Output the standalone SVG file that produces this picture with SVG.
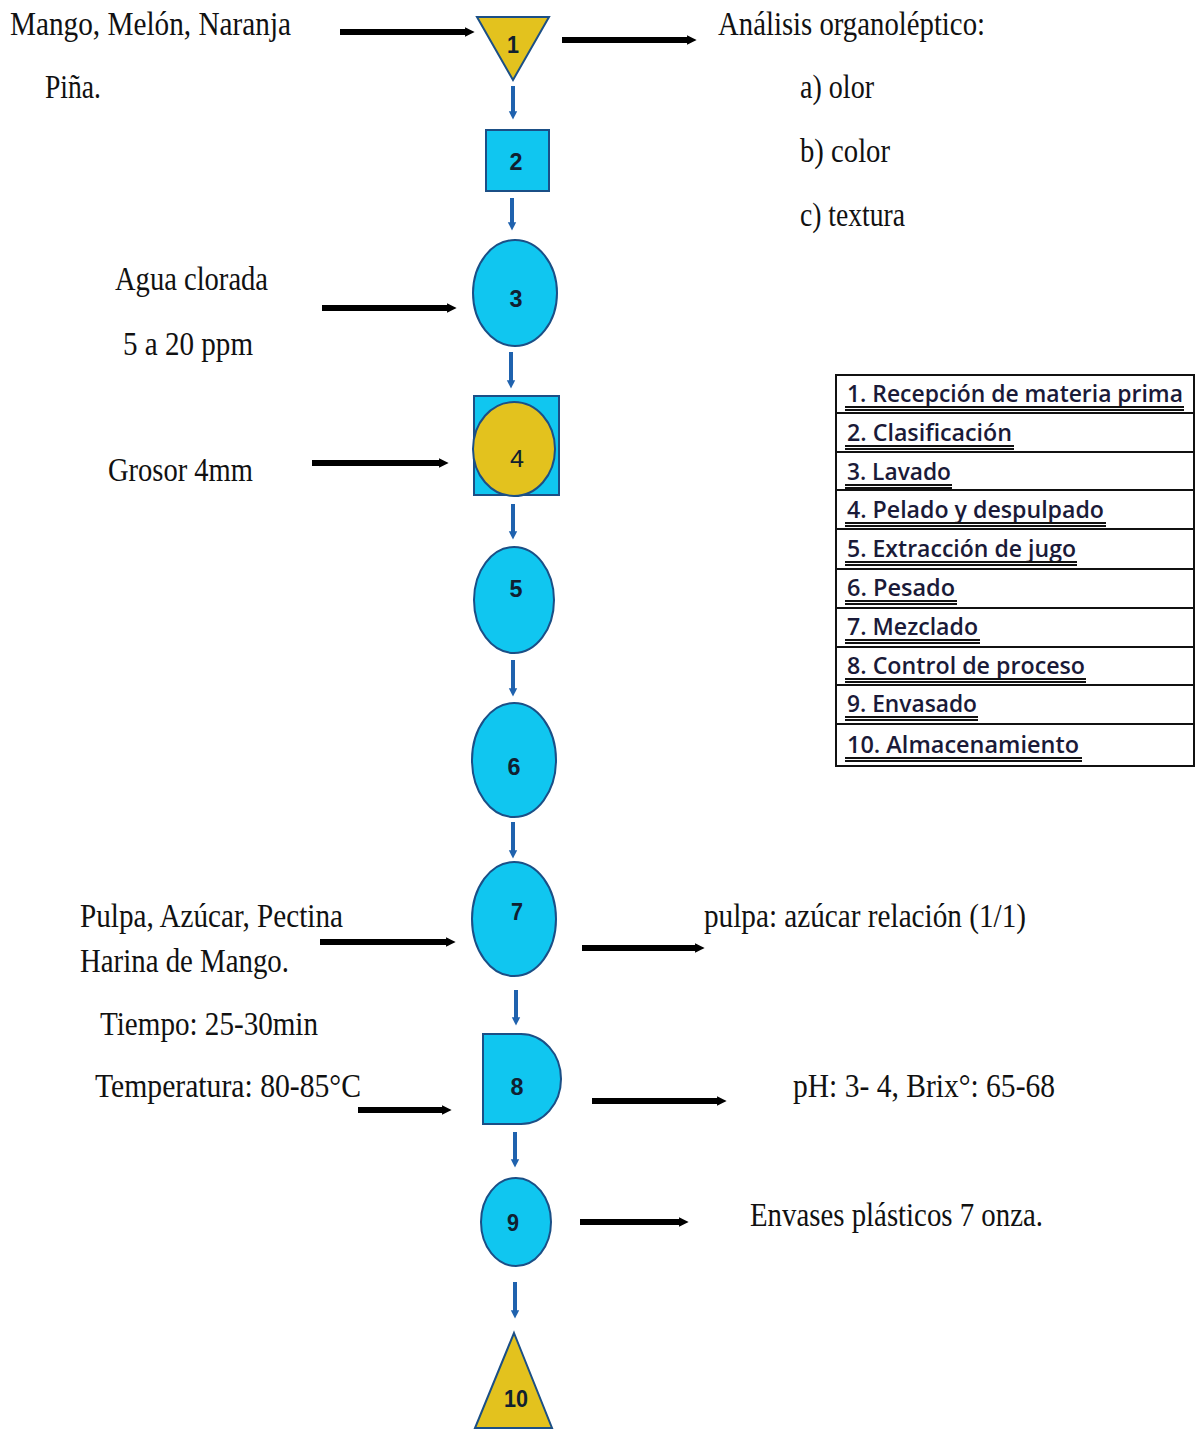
<svg xmlns="http://www.w3.org/2000/svg" width="1196" height="1430" viewBox="0 0 1196 1430">
  <style>
    .lbl { font-family: "Liberation Serif", "Times New Roman", serif; font-size: 33px; fill: #111; }
    .num { font-family: "Liberation Sans", Arial, sans-serif; font-size: 24px; font-weight: bold; fill: #102030; text-anchor: middle; }
    .cyan { fill: #10C6F0; stroke: #1B4F86; stroke-width: 2; }
    .gold { fill: #E3C21E; stroke: #1B4F86; stroke-width: 2; }
    .leg { font-family: "Open Sans", "Noto Sans", sans-serif; font-size: 23px; font-weight: 600; fill: #1A1A38; }
    .ul { stroke: #111; stroke-width: 2; }
    .row { stroke: #111; stroke-width: 2; }
    .feed { stroke: #000; stroke-width: 6; fill: none; marker-end: url(#blackHead); }
    .flow { stroke: #1F62AE; stroke-width: 4; fill: none; marker-end: url(#blueHead); }
  </style>
  <defs>
    <marker id="blackHead" viewBox="0 0 10 10" refX="1" refY="5" markerWidth="1.6" markerHeight="2" orient="auto" markerUnits="strokeWidth">
      <path d="M0,0 L10,5 L0,10 Z" fill="#000"/>
    </marker>
    <marker id="blueHead" viewBox="0 0 10 10" refX="1" refY="5" markerWidth="2.1" markerHeight="2.8" orient="auto" markerUnits="strokeWidth">
      <path d="M0,0 L10,5 L0,10 Z" fill="#1F62AE"/>
    </marker>
  </defs>

  <rect width="1196" height="1430" fill="#fff"/>

  <!-- connectors: feed/output arrows and the main process line -->
  <g id="connectors">
    <path class="feed" d="M340,32 H466"/>
    <path class="feed" d="M562,40 H688"/>
    <path class="feed" d="M322,308 H448"/>
    <path class="feed" d="M312,463 H440"/>
    <path class="feed" d="M320,942 H447"/>
    <path class="feed" d="M582,948 H696"/>
    <path class="feed" d="M358,1110 H443"/>
    <path class="feed" d="M592,1101 H718"/>
    <path class="feed" d="M580,1222 H680"/>

    <path class="flow" d="M513,86 V112"/>
    <path class="flow" d="M512,198 V223"/>
    <path class="flow" d="M511,352 V381"/>
    <path class="flow" d="M513,504 V532"/>
    <path class="flow" d="M513,660 V689"/>
    <path class="flow" d="M513,822 V851"/>
    <path class="flow" d="M516,990 V1018"/>
    <path class="flow" d="M515,1132 V1160"/>
    <path class="flow" d="M515,1282 V1311"/>
  </g>

  <!-- process nodes -->
  <g id="node1">
    <polygon class="gold" points="477,17 549,17 513,80"/>
    <text class="num" x="513" y="53" textLength="12" lengthAdjust="spacingAndGlyphs">1</text>
  </g>
  <g id="node2">
    <rect class="cyan" x="486" y="130" width="63" height="61"/>
    <text class="num" x="516" y="170" textLength="13" lengthAdjust="spacingAndGlyphs">2</text>
  </g>
  <g id="node3">
    <ellipse class="cyan" cx="515" cy="293" rx="42" ry="53"/>
    <text class="num" x="516" y="307" textLength="13" lengthAdjust="spacingAndGlyphs">3</text>
  </g>
  <g id="node4">
    <rect class="cyan" x="474" y="396" width="85" height="99"/>
    <ellipse class="gold" cx="514" cy="449" rx="41" ry="47"/>
    <text class="num" x="517" y="467" textLength="14" lengthAdjust="spacingAndGlyphs" style="font-weight:normal">4</text>
  </g>
  <g id="node5">
    <ellipse class="cyan" cx="514" cy="600" rx="40" ry="53"/>
    <text class="num" x="516" y="597" textLength="13" lengthAdjust="spacingAndGlyphs">5</text>
  </g>
  <g id="node6">
    <ellipse class="cyan" cx="514" cy="760" rx="42" ry="57"/>
    <text class="num" x="514" y="775" textLength="13" lengthAdjust="spacingAndGlyphs">6</text>
  </g>
  <g id="node7">
    <ellipse class="cyan" cx="514" cy="919" rx="42" ry="57"/>
    <text class="num" x="517" y="920" textLength="12" lengthAdjust="spacingAndGlyphs">7</text>
  </g>
  <g id="node8">
    <path class="cyan" d="M483,1034 H521 A40,45 0 0 1 521,1124 H483 Z"/>
    <text class="num" x="517" y="1095" textLength="13" lengthAdjust="spacingAndGlyphs">8</text>
  </g>
  <g id="node9">
    <ellipse class="cyan" cx="516" cy="1222" rx="35" ry="44"/>
    <text class="num" x="513" y="1231" textLength="12" lengthAdjust="spacingAndGlyphs">9</text>
  </g>
  <g id="node10">
    <polygon class="gold" points="514,1333 552,1428 475,1428"/>
    <text class="num" x="516" y="1407" textLength="24" lengthAdjust="spacingAndGlyphs">10</text>
  </g>

  <!-- side annotations -->
  <g id="inputs">
    <text class="lbl" x="10" y="35" textLength="281" lengthAdjust="spacingAndGlyphs">Mango, Melón, Naranja</text>
    <text class="lbl" x="45" y="98" textLength="56" lengthAdjust="spacingAndGlyphs">Piña.</text>
    <text class="lbl" x="115" y="290" textLength="153" lengthAdjust="spacingAndGlyphs">Agua clorada</text>
    <text class="lbl" x="123" y="355" textLength="130" lengthAdjust="spacingAndGlyphs">5 a 20 ppm</text>
    <text class="lbl" x="108" y="481" textLength="145" lengthAdjust="spacingAndGlyphs">Grosor 4mm</text>
    <text class="lbl" x="80" y="927" textLength="263" lengthAdjust="spacingAndGlyphs">Pulpa, Azúcar, Pectina</text>
    <text class="lbl" x="80" y="972" textLength="209" lengthAdjust="spacingAndGlyphs">Harina de Mango.</text>
    <text class="lbl" x="100" y="1035" textLength="218" lengthAdjust="spacingAndGlyphs">Tiempo: 25-30min</text>
    <text class="lbl" x="95" y="1097" textLength="266" lengthAdjust="spacingAndGlyphs">Temperatura: 80-85°C</text>
  </g>
  <g id="outputs">
    <text class="lbl" x="718" y="35" textLength="267" lengthAdjust="spacingAndGlyphs">Análisis organoléptico:</text>
    <text class="lbl" x="800" y="98" textLength="74" lengthAdjust="spacingAndGlyphs">a) olor</text>
    <text class="lbl" x="800" y="162" textLength="90" lengthAdjust="spacingAndGlyphs">b) color</text>
    <text class="lbl" x="800" y="226" textLength="105" lengthAdjust="spacingAndGlyphs">c) textura</text>
    <text class="lbl" x="704" y="927" textLength="322" lengthAdjust="spacingAndGlyphs">pulpa: azúcar relación (1/1)</text>
    <text class="lbl" x="793" y="1097" textLength="262" lengthAdjust="spacingAndGlyphs">pH: 3- 4, Brix°: 65-68</text>
    <text class="lbl" x="750" y="1226" textLength="293" lengthAdjust="spacingAndGlyphs">Envases plásticos 7 onza.</text>
  </g>

  <!-- legend table -->
  <g id="legend">
    <rect x="836" y="375" width="358" height="391" fill="#fff" stroke="#111" stroke-width="2"/>
    <line class="row" x1="836" y1="413" x2="1194" y2="413"/>
    <line class="row" x1="836" y1="452" x2="1194" y2="452"/>
    <line class="row" x1="836" y1="490" x2="1194" y2="490"/>
    <line class="row" x1="836" y1="529" x2="1194" y2="529"/>
    <line class="row" x1="836" y1="569" x2="1194" y2="569"/>
    <line class="row" x1="836" y1="608" x2="1194" y2="608"/>
    <line class="row" x1="836" y1="647" x2="1194" y2="647"/>
    <line class="row" x1="836" y1="685" x2="1194" y2="685"/>
    <line class="row" x1="836" y1="724" x2="1194" y2="724"/>

    <text class="leg" x="847" y="402" textLength="336" lengthAdjust="spacingAndGlyphs">1. Recepción de materia prima</text>
    <text class="leg" x="847" y="441" textLength="165" lengthAdjust="spacingAndGlyphs">2. Clasificación</text>
    <text class="leg" x="847" y="480" textLength="104" lengthAdjust="spacingAndGlyphs">3. Lavado</text>
    <text class="leg" x="847" y="518" textLength="257" lengthAdjust="spacingAndGlyphs">4. Pelado y despulpado</text>
    <text class="leg" x="847" y="557" textLength="229" lengthAdjust="spacingAndGlyphs">5. Extracción de jugo</text>
    <text class="leg" x="847" y="596" textLength="108" lengthAdjust="spacingAndGlyphs">6. Pesado</text>
    <text class="leg" x="847" y="635" textLength="131" lengthAdjust="spacingAndGlyphs">7. Mezclado</text>
    <text class="leg" x="847" y="674" textLength="238" lengthAdjust="spacingAndGlyphs">8. Control de proceso</text>
    <text class="leg" x="847" y="712" textLength="130" lengthAdjust="spacingAndGlyphs">9. Envasado</text>
    <text class="leg" x="847" y="753" textLength="232" lengthAdjust="spacingAndGlyphs">10. Almacenamiento</text>

    <!-- double underlines -->
    <path class="ul" d="M845,407 H1184 M845,410 H1184"/>
    <path class="ul" d="M845,446 H1014 M845,449 H1014"/>
    <path class="ul" d="M845,485 H952 M845,488 H952"/>
    <path class="ul" d="M845,523 H1106 M845,526 H1106"/>
    <path class="ul" d="M845,562 H1077 M845,565 H1077"/>
    <path class="ul" d="M845,601 H957 M845,604 H957"/>
    <path class="ul" d="M845,640 H980 M845,643 H980"/>
    <path class="ul" d="M845,679 H1086 M845,682 H1086"/>
    <path class="ul" d="M845,717 H978 M845,720 H978"/>
    <path class="ul" d="M845,758 H1082 M845,761 H1082"/>
  </g>
</svg>
